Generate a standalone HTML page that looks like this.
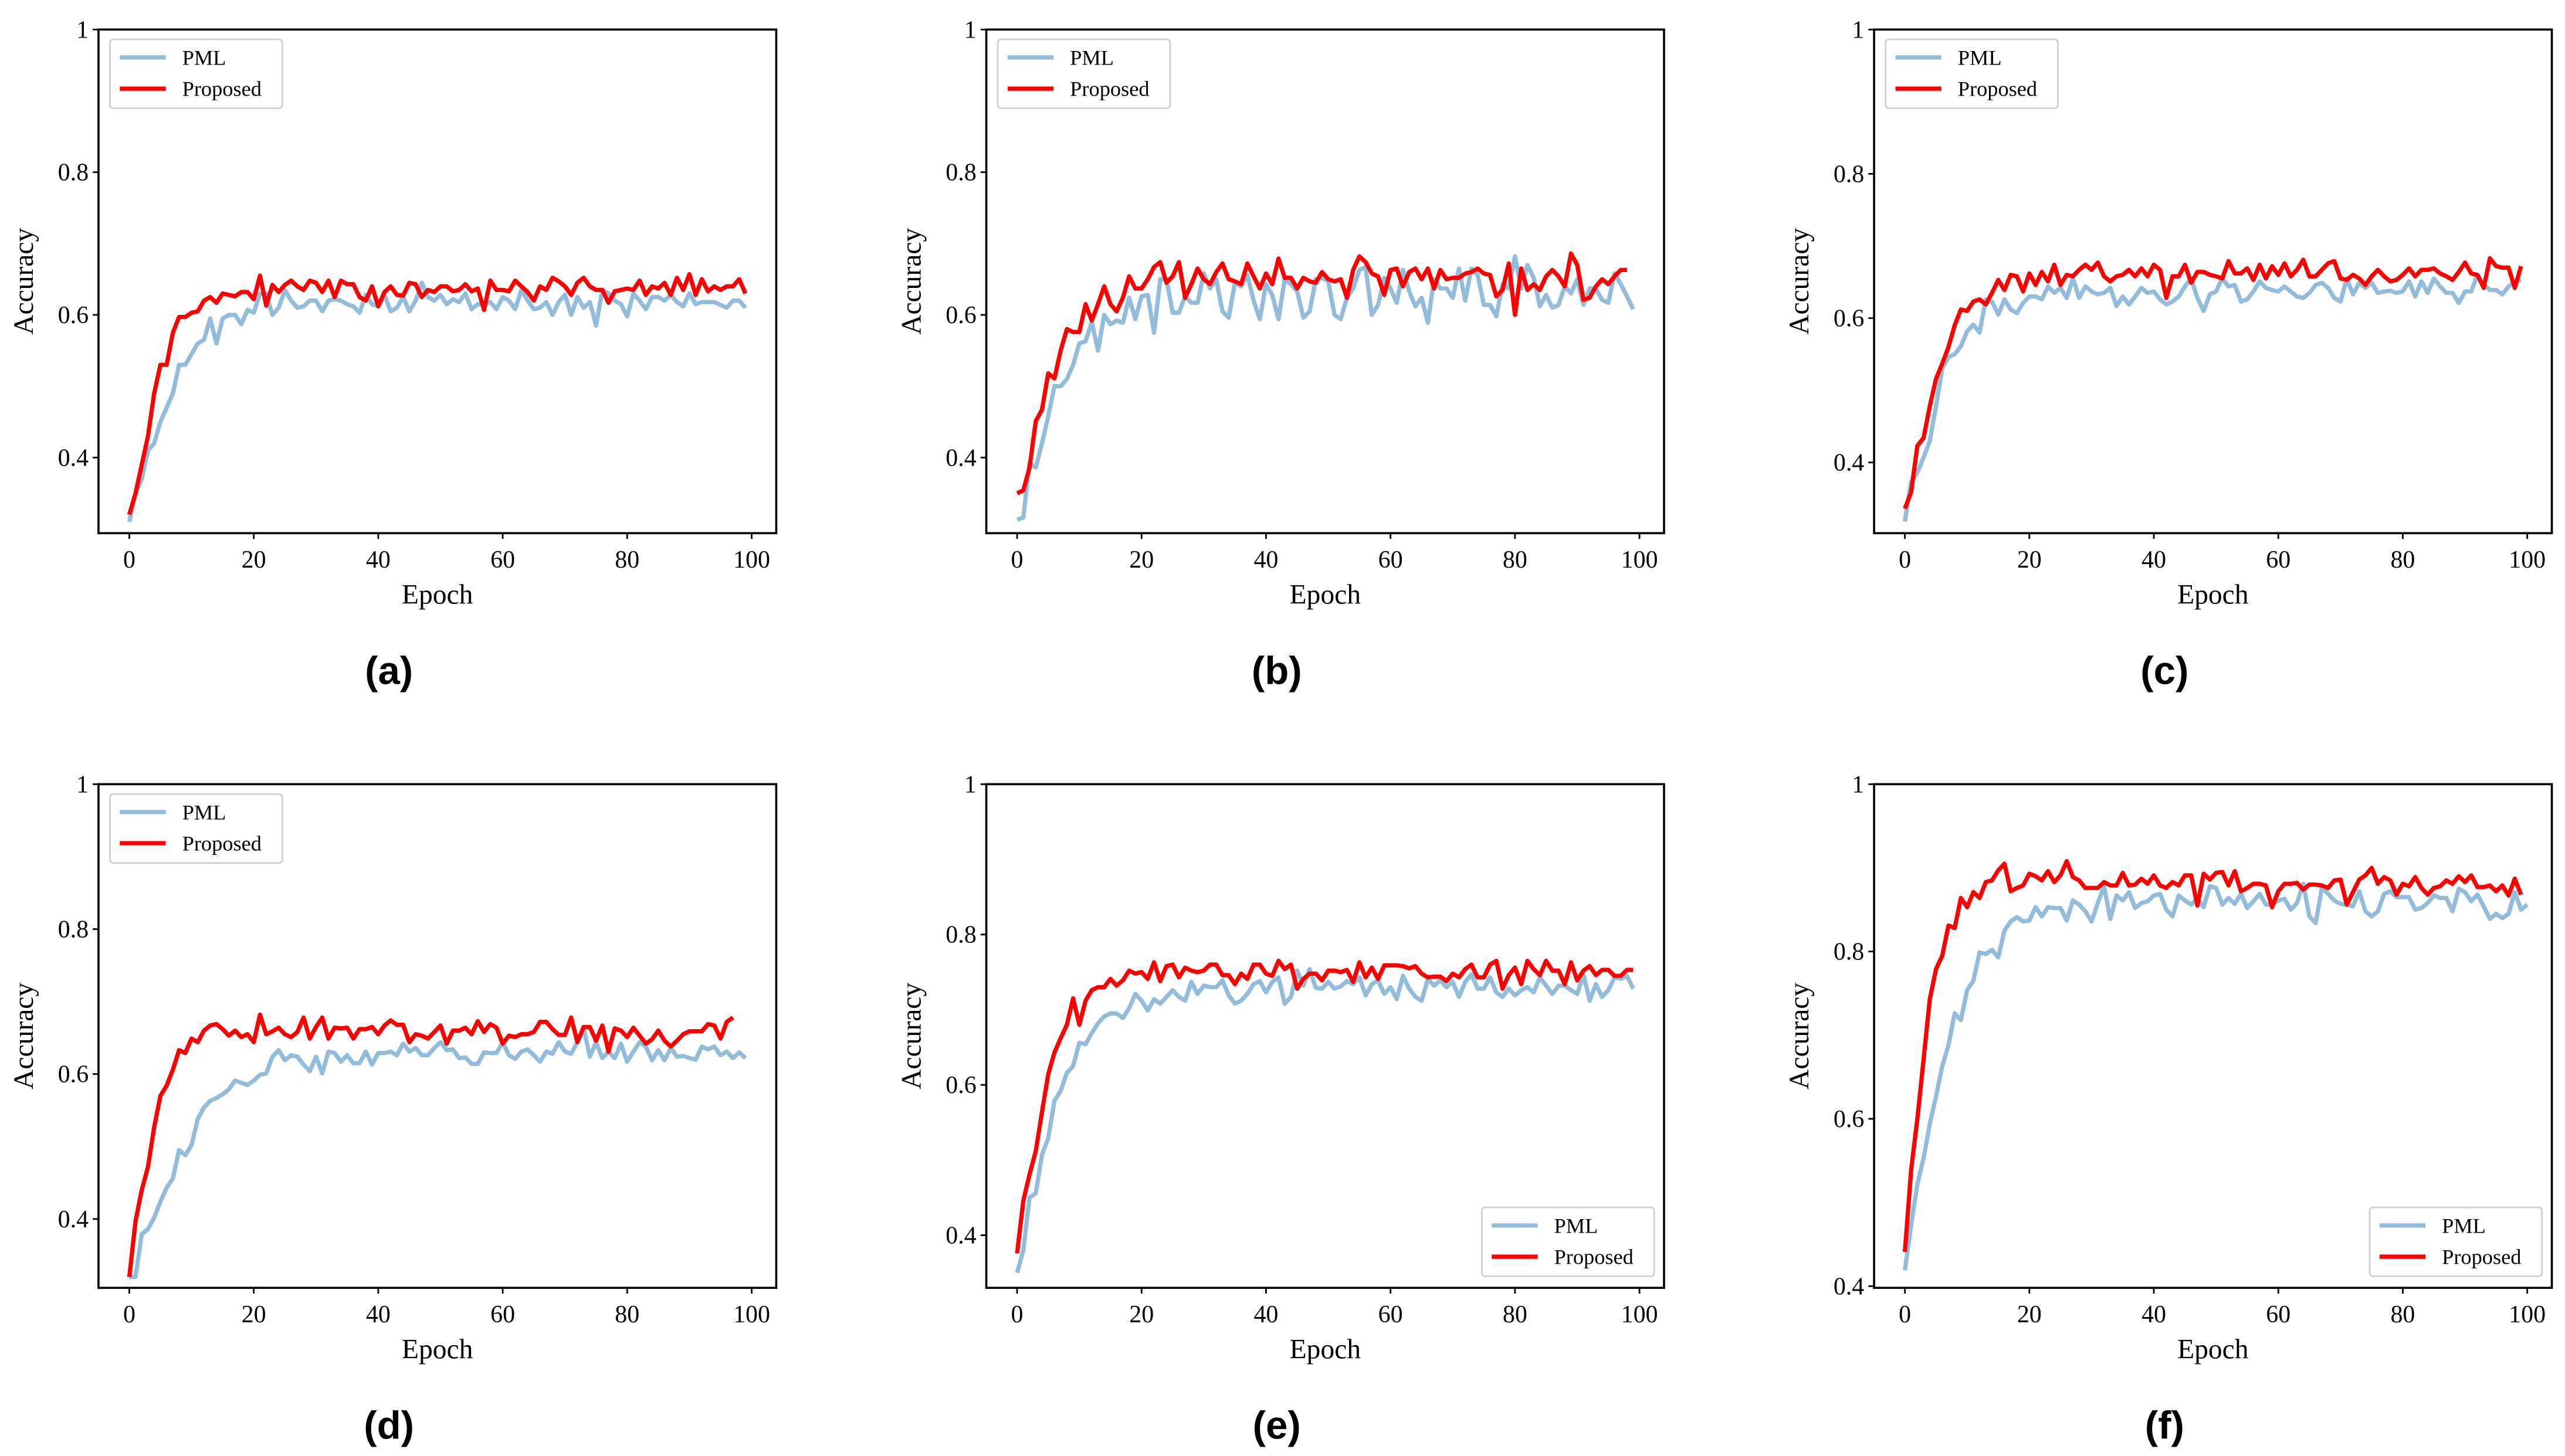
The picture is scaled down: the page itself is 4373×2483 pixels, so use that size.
<!DOCTYPE html>
<html><head><meta charset="utf-8">
<style>
html,body{margin:0;padding:0;background:#fff;}
svg{display:block;}
text{font-family:"Liberation Serif",serif;fill:#000;}
.cap{font-family:"Liberation Sans",sans-serif;font-weight:bold;}
</style></head>
<body>
<svg id="fig" width="4373" height="2483" viewBox="0 0 1563 887.5" xmlns="http://www.w3.org/2000/svg"></svg>
<script>
const xTicks=[0,20,40,60,80,100];
const seriesNames=["PML","Proposed"];
const captions=["(a)","(b)","(c)","(d)","(e)","(f)"];
const yTicksRow1=[0.4,0.6,0.8,1];
const yLabelsTick=["0.4","0.6","0.8","1"];
const pmlA=[0.31,0.35,0.37,0.41,0.42,0.45,0.47,0.49,0.53,0.53,0.545,0.56,0.565,0.595,0.56,0.595,0.60,0.60,0.587,0.607,0.603,0.63,0.63,0.60,0.61,0.635,0.62,0.61,0.612,0.62,0.62,0.605,0.62,0.622,0.62,0.615,0.612,0.603,0.628,0.615,0.612,0.628,0.605,0.61,0.625,0.605,0.62,0.645,0.625,0.62,0.628,0.615,0.622,0.618,0.63,0.608,0.615,0.615,0.618,0.608,0.625,0.62,0.608,0.635,0.62,0.608,0.61,0.618,0.60,0.618,0.628,0.60,0.625,0.61,0.618,0.585,0.635,0.63,0.62,0.615,0.598,0.63,0.62,0.608,0.625,0.625,0.62,0.628,0.618,0.612,0.63,0.615,0.618,0.618,0.618,0.614,0.61,0.62,0.62,0.61];
const propA=[0.32,0.35,0.39,0.43,0.49,0.53,0.53,0.575,0.597,0.597,0.603,0.605,0.62,0.625,0.617,0.63,0.628,0.626,0.632,0.632,0.622,0.655,0.613,0.642,0.632,0.642,0.648,0.64,0.635,0.648,0.645,0.632,0.648,0.625,0.648,0.643,0.643,0.625,0.62,0.64,0.612,0.632,0.64,0.628,0.627,0.645,0.643,0.625,0.635,0.632,0.64,0.64,0.633,0.635,0.643,0.633,0.637,0.607,0.648,0.635,0.635,0.633,0.648,0.64,0.632,0.62,0.64,0.635,0.652,0.647,0.64,0.628,0.645,0.652,0.64,0.635,0.635,0.617,0.633,0.635,0.637,0.635,0.648,0.628,0.64,0.637,0.645,0.628,0.652,0.635,0.657,0.628,0.65,0.633,0.64,0.635,0.64,0.64,0.65,0.63];
const pmlB=[0.313,0.316,0.393,0.386,0.42,0.458,0.50,0.50,0.51,0.53,0.56,0.563,0.59,0.55,0.60,0.587,0.592,0.589,0.624,0.594,0.626,0.628,0.575,0.65,0.65,0.603,0.603,0.626,0.617,0.617,0.658,0.637,0.65,0.605,0.596,0.645,0.64,0.656,0.62,0.594,0.643,0.628,0.594,0.65,0.643,0.633,0.596,0.605,0.65,0.652,0.647,0.60,0.594,0.624,0.637,0.663,0.667,0.60,0.614,0.652,0.637,0.617,0.663,0.633,0.612,0.624,0.589,0.65,0.637,0.637,0.624,0.665,0.62,0.665,0.656,0.614,0.614,0.598,0.643,0.637,0.682,0.637,0.67,0.652,0.612,0.628,0.61,0.614,0.64,0.63,0.65,0.614,0.637,0.637,0.621,0.617,0.658,0.643,0.626,0.608];
const propB=[0.35,0.354,0.386,0.451,0.467,0.518,0.511,0.55,0.58,0.576,0.576,0.615,0.592,0.615,0.64,0.615,0.605,0.624,0.654,0.637,0.637,0.65,0.667,0.674,0.645,0.654,0.674,0.624,0.643,0.665,0.65,0.643,0.66,0.672,0.65,0.647,0.643,0.672,0.654,0.637,0.658,0.643,0.679,0.652,0.652,0.637,0.652,0.647,0.645,0.66,0.65,0.647,0.65,0.624,0.663,0.682,0.674,0.658,0.654,0.628,0.663,0.665,0.64,0.66,0.665,0.65,0.665,0.637,0.663,0.65,0.652,0.652,0.658,0.66,0.665,0.658,0.656,0.626,0.635,0.672,0.60,0.665,0.635,0.643,0.635,0.654,0.663,0.654,0.64,0.686,0.67,0.621,0.624,0.64,0.65,0.643,0.654,0.663,0.663];
const pmlC=[0.318,0.373,0.386,0.407,0.43,0.478,0.53,0.546,0.55,0.561,0.582,0.591,0.58,0.626,0.623,0.605,0.626,0.612,0.607,0.621,0.63,0.63,0.626,0.644,0.635,0.642,0.628,0.655,0.628,0.644,0.637,0.633,0.635,0.642,0.617,0.63,0.619,0.63,0.642,0.635,0.637,0.626,0.619,0.623,0.63,0.644,0.655,0.628,0.61,0.633,0.637,0.655,0.644,0.646,0.623,0.626,0.637,0.651,0.642,0.639,0.637,0.644,0.637,0.63,0.628,0.635,0.646,0.649,0.642,0.628,0.623,0.655,0.633,0.649,0.642,0.649,0.635,0.637,0.638,0.635,0.637,0.651,0.63,0.651,0.635,0.655,0.644,0.635,0.635,0.621,0.637,0.637,0.66,0.646,0.639,0.639,0.633,0.644,0.65,0.653];
const propC=[0.336,0.359,0.423,0.434,0.478,0.516,0.537,0.56,0.59,0.612,0.61,0.623,0.626,0.619,0.635,0.653,0.639,0.66,0.658,0.637,0.662,0.646,0.664,0.651,0.674,0.646,0.66,0.658,0.667,0.674,0.667,0.677,0.658,0.651,0.658,0.66,0.667,0.658,0.669,0.658,0.674,0.667,0.628,0.658,0.658,0.674,0.649,0.664,0.664,0.66,0.658,0.655,0.679,0.662,0.662,0.669,0.653,0.674,0.655,0.672,0.66,0.676,0.658,0.667,0.681,0.658,0.658,0.667,0.676,0.679,0.655,0.653,0.66,0.655,0.646,0.658,0.667,0.658,0.651,0.653,0.66,0.669,0.658,0.667,0.667,0.669,0.662,0.658,0.653,0.664,0.677,0.662,0.66,0.642,0.683,0.672,0.67,0.67,0.642,0.672];
const pmlD=[0.32,0.32,0.379,0.386,0.402,0.424,0.443,0.456,0.495,0.488,0.502,0.538,0.554,0.563,0.567,0.572,0.579,0.591,0.588,0.585,0.591,0.599,0.601,0.624,0.633,0.619,0.626,0.624,0.613,0.604,0.624,0.601,0.631,0.629,0.617,0.626,0.615,0.615,0.631,0.613,0.629,0.629,0.631,0.626,0.642,0.631,0.636,0.626,0.626,0.636,0.644,0.633,0.634,0.622,0.623,0.614,0.614,0.63,0.629,0.629,0.644,0.626,0.621,0.631,0.634,0.626,0.617,0.631,0.628,0.644,0.631,0.628,0.644,0.663,0.624,0.644,0.622,0.631,0.622,0.642,0.617,0.631,0.644,0.638,0.619,0.633,0.619,0.636,0.624,0.625,0.622,0.62,0.638,0.634,0.638,0.626,0.631,0.622,0.63,0.622];
const propD=[0.32,0.397,0.44,0.472,0.527,0.57,0.584,0.606,0.633,0.629,0.649,0.644,0.66,0.667,0.669,0.662,0.653,0.66,0.651,0.655,0.644,0.682,0.655,0.659,0.664,0.655,0.651,0.658,0.678,0.649,0.665,0.678,0.649,0.664,0.663,0.664,0.649,0.662,0.662,0.665,0.655,0.667,0.674,0.668,0.668,0.644,0.655,0.653,0.649,0.658,0.667,0.642,0.66,0.66,0.664,0.655,0.673,0.658,0.669,0.664,0.642,0.653,0.651,0.655,0.655,0.658,0.672,0.672,0.662,0.654,0.654,0.678,0.644,0.665,0.665,0.646,0.667,0.631,0.663,0.66,0.651,0.664,0.653,0.642,0.648,0.66,0.646,0.638,0.646,0.655,0.659,0.659,0.659,0.669,0.667,0.649,0.672,0.678];
const pmlE=[0.35,0.38,0.45,0.456,0.507,0.529,0.579,0.592,0.616,0.625,0.656,0.654,0.669,0.682,0.691,0.695,0.695,0.689,0.702,0.721,0.712,0.699,0.714,0.708,0.717,0.726,0.717,0.712,0.737,0.721,0.732,0.73,0.73,0.739,0.719,0.708,0.712,0.721,0.734,0.738,0.723,0.737,0.743,0.708,0.717,0.752,0.732,0.754,0.729,0.728,0.737,0.728,0.731,0.738,0.734,0.743,0.719,0.734,0.739,0.721,0.73,0.714,0.745,0.728,0.717,0.712,0.741,0.732,0.739,0.73,0.737,0.717,0.737,0.747,0.728,0.728,0.743,0.723,0.717,0.728,0.719,0.726,0.73,0.723,0.743,0.732,0.721,0.732,0.732,0.726,0.721,0.747,0.712,0.734,0.717,0.726,0.743,0.741,0.745,0.728];
const propE=[0.376,0.446,0.481,0.512,0.564,0.614,0.643,0.662,0.68,0.715,0.68,0.712,0.726,0.73,0.73,0.741,0.732,0.739,0.752,0.748,0.75,0.741,0.763,0.738,0.758,0.76,0.743,0.756,0.752,0.75,0.752,0.76,0.76,0.746,0.746,0.734,0.748,0.741,0.76,0.76,0.748,0.745,0.765,0.754,0.76,0.728,0.741,0.748,0.748,0.739,0.752,0.752,0.75,0.753,0.737,0.763,0.743,0.756,0.741,0.759,0.759,0.759,0.758,0.755,0.758,0.748,0.743,0.744,0.744,0.738,0.748,0.743,0.754,0.76,0.743,0.743,0.76,0.765,0.728,0.746,0.756,0.734,0.765,0.754,0.746,0.765,0.752,0.752,0.734,0.763,0.739,0.752,0.758,0.746,0.753,0.753,0.745,0.745,0.753,0.753];
const pmlF=[0.419,0.473,0.522,0.553,0.594,0.627,0.663,0.688,0.726,0.718,0.754,0.765,0.799,0.797,0.802,0.793,0.825,0.836,0.841,0.836,0.837,0.853,0.842,0.853,0.852,0.852,0.837,0.861,0.856,0.848,0.836,0.858,0.878,0.839,0.867,0.861,0.871,0.852,0.858,0.86,0.867,0.869,0.85,0.842,0.867,0.861,0.856,0.864,0.853,0.878,0.876,0.856,0.864,0.857,0.869,0.852,0.86,0.869,0.856,0.856,0.861,0.863,0.85,0.858,0.881,0.842,0.834,0.876,0.869,0.861,0.857,0.856,0.854,0.872,0.848,0.842,0.848,0.869,0.872,0.865,0.865,0.865,0.85,0.852,0.858,0.867,0.864,0.864,0.848,0.875,0.871,0.86,0.868,0.854,0.839,0.845,0.84,0.845,0.871,0.85,0.856];
const propF=[0.441,0.539,0.6,0.671,0.743,0.779,0.795,0.831,0.828,0.864,0.853,0.871,0.864,0.883,0.885,0.897,0.905,0.872,0.876,0.879,0.893,0.89,0.885,0.896,0.883,0.891,0.908,0.889,0.885,0.876,0.876,0.876,0.883,0.879,0.879,0.894,0.879,0.88,0.887,0.881,0.891,0.879,0.876,0.883,0.879,0.891,0.891,0.855,0.893,0.886,0.894,0.895,0.879,0.896,0.872,0.876,0.881,0.881,0.879,0.853,0.872,0.881,0.881,0.882,0.874,0.88,0.88,0.879,0.876,0.885,0.886,0.856,0.871,0.886,0.891,0.9,0.881,0.889,0.885,0.868,0.881,0.878,0.889,0.876,0.868,0.876,0.878,0.885,0.881,0.89,0.883,0.891,0.877,0.877,0.879,0.872,0.879,0.867,0.887,0.868];

const NS="http://www.w3.org/2000/svg";
const svg=document.getElementById('fig');
function mk(tag,attrs,parent){const e=document.createElementNS(NS,tag);for(const k in attrs)e.setAttribute(k,attrs[k]);(parent||svg).appendChild(e);return e;}

const panels=[
 {l:60,t:18,ymin:0.294,pml:pmlA,prop:propA,leg:'tl'},
 {l:601,t:18,ymin:0.294,pml:pmlB,prop:propB,leg:'tl'},
 {l:1142,t:18,ymin:0.302,pml:pmlC,prop:propC,leg:'tl'},
 {l:60,t:478,ymin:0.305,pml:pmlD,prop:propD,leg:'tl'},
 {l:601,t:478,ymin:0.33,pml:pmlE,prop:propE,leg:'br'},
 {l:1142,t:478,ymin:0.398,pml:pmlF,prop:propF,leg:'br'}
];
const W=413,H=307,XMIN=-4.95,XMAX=103.95;
panels.forEach((p,pi)=>{
  const g=mk('g',{});
  
  
  const xs=v=>p.l+(v-XMIN)/(XMAX-XMIN)*W;
  const ys=v=>p.t+(1-v)/(1-p.ymin)*H;
  const cid='clip'+pi;
  const cp=mk('clipPath',{id:cid},g);mk('rect',{x:p.l,y:p.t,width:W,height:H},cp);
  [[p.pml,'#93bbda','pml'],[p.prop,'#ff0000','proposed']].forEach(([arr,col,nm])=>{
    const d=arr.map((v,i)=>(i?'L':'M')+xs(i).toFixed(2)+' '+ys(v).toFixed(2)).join(' ');
    const path=mk('path',{d:d,fill:'none',stroke:col,'stroke-width':2.6,'stroke-linejoin':'round','clip-path':'url(#'+cid+')'},g);
    
    
  });
  const fr=mk('rect',{x:p.l,y:p.t,width:W,height:H,fill:'none',stroke:'#000','stroke-width':1.3},g);
  
  
  xTicks.forEach(v=>{
    const x=xs(v);
    mk('line',{x1:x,x2:x,y1:p.t+H,y2:p.t+H+3.5,stroke:'#000','stroke-width':1},g);
    const t=mk('text',{x:x,y:p.t+H+21,'text-anchor':'middle','font-size':15},g);
    t.textContent=String(v);
    
    
  });
  yTicksRow1.forEach((v,k)=>{
    const y=ys(v);
    mk('line',{x1:p.l-3.5,x2:p.l,y1:y,y2:y,stroke:'#000','stroke-width':1},g);
    const t=mk('text',{x:p.l-6,y:y+5,'text-anchor':'end','font-size':15},g);
    t.textContent=yLabelsTick[k];
    
    
  });
  const xl=mk('text',{x:p.l+W/2,y:p.t+H+43,'text-anchor':'middle','font-size':17},g);
  xl.textContent='Epoch';
  
  
  const yx=p.l-40, yy=p.t+H/2;
  const yl=mk('text',{x:yx,y:yy,'text-anchor':'middle','font-size':17,transform:'rotate(-90 '+yx+' '+yy+')'},g);
  yl.textContent='Accuracy';
  
  
  const cap=mk('text',{x:p.l+177,y:p.t+H+92,'text-anchor':'middle','font-size':24,'class':'cap'},g);
  cap.textContent=captions[pi];
  
  
  const lx=p.leg==='tl'?p.l+7:p.l+302, ly=p.leg==='tl'?p.t+6:p.t+258;
  const lg=mk('g',{},g);
  
  
  mk('rect',{x:lx,y:ly,width:105,height:42,rx:2,fill:'#fff',stroke:'#d0d0d0','stroke-width':1},lg);
  [['#93bbda',11],['#ff0000',30]].forEach(([c,dy],k)=>{
    mk('line',{x1:lx+6,x2:lx+34,y1:ly+dy,y2:ly+dy,stroke:c,'stroke-width':2.6},lg);
    const t=mk('text',{x:lx+44,y:ly+dy+4.5,'font-size':13},lg);
    t.textContent=seriesNames[k];
    
    
  });
});
</script>
</body></html>
